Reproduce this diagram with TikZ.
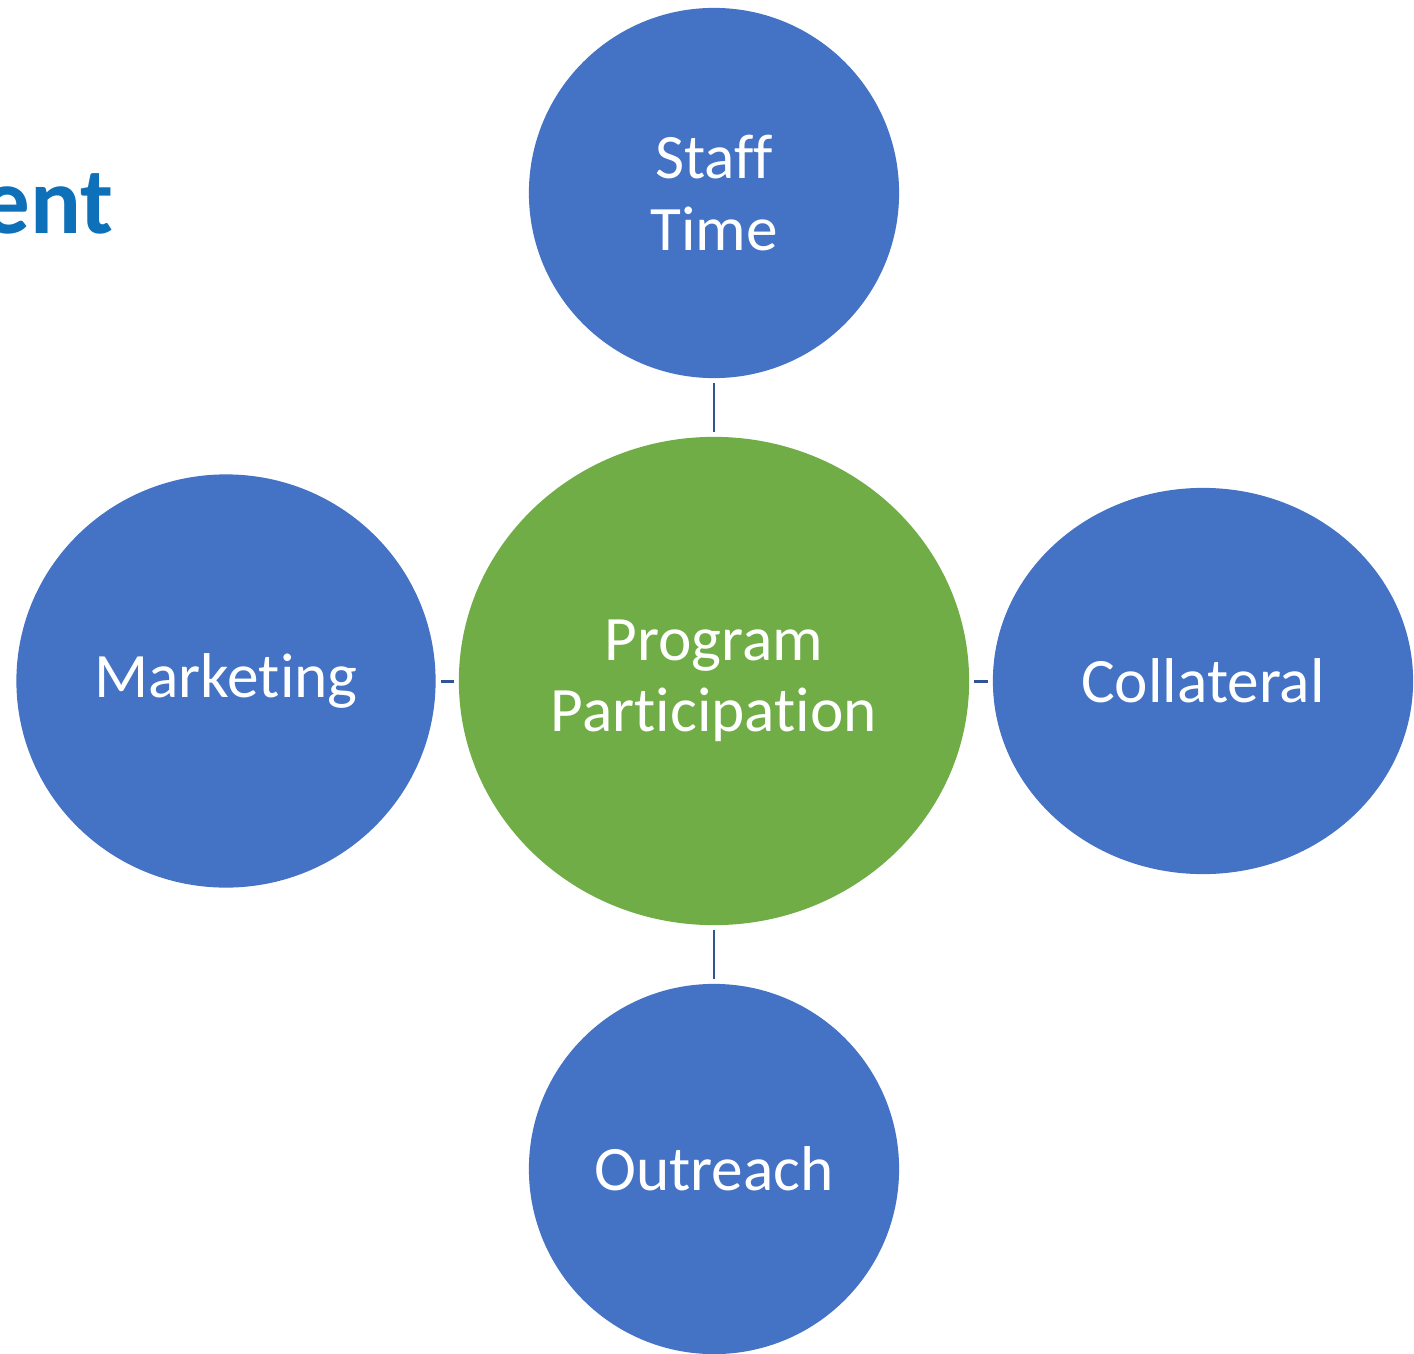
\documentclass[tikz,border=0pt]{standalone}
\usepackage{fontspec}
\setmainfont{Carlito}[Ligatures={NoCommon}]
\usetikzlibrary{shapes.geometric}

\definecolor{bubbleblue}{HTML}{4472C4}
\definecolor{hubgreen}{HTML}{70AD47}
\definecolor{linkblue}{HTML}{2F5597}
\definecolor{titleblue}{HTML}{0E70B8}

\begin{document}
\begin{tikzpicture}[x=0.01cm, y=-0.01cm,
  every node/.style={font=\fontsize{18}{20.2}\selectfont, text=white, align=center, inner sep=0pt},
  bubble/.style={ellipse, fill=bubbleblue, draw=none},
  hub/.style={ellipse, fill=hubgreen, draw=none},
  link/.style={draw=linkblue, line width=0.85pt, shorten <=1.2pt, shorten >=1.2pt}]
  \useasboundingbox (0,0) rectangle (1414,1354);

  % Title (cut off at the left edge)
  \node[anchor=base east, text=titleblue, font=\fontsize{27}{30}\selectfont\bfseries] (title) at (114,233) {ent};

  % Center
  \node[hub, minimum width=5.1cm, minimum height=4.88cm] (program) at (714,681) {Program\\Participation};

  % Satellites
  \node[bubble, minimum width=3.7cm, minimum height=3.7cm] (staff) at (714,193) {Staff\\Time};
  \node[bubble, minimum width=4.19cm, minimum height=4.13cm] (marketing) at (226,681) {Marketing};
  \node[bubble, minimum width=4.2cm, minimum height=3.86cm] (collateral) at (1203,681) {Collateral};
  \node[bubble, minimum width=3.7cm, minimum height=3.7cm] (outreach) at (714,1169) {Outreach};

  % Links
  \draw[link] (staff) -- (program);
  \draw[link] (marketing) -- (program);
  \draw[link] (collateral) -- (program);
  \draw[link] (outreach) -- (program);
\end{tikzpicture}
\end{document}
